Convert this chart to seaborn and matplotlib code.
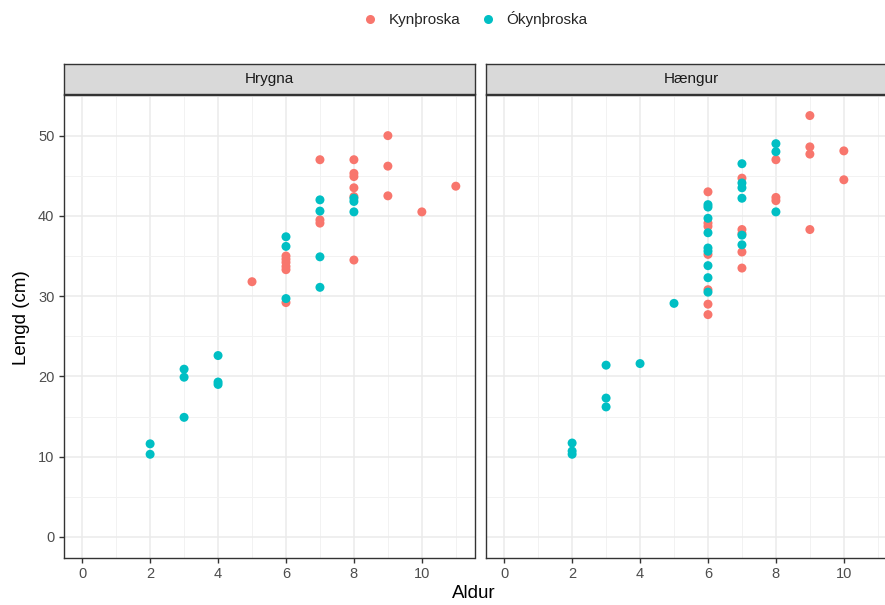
import pandas as pd
import matplotlib
matplotlib.use("Agg")
import matplotlib.pyplot as plt
import seaborn as sns
from matplotlib.lines import Line2D

# Values
# Hrygna (female)
f_age_mature = [5, 6, 6, 6, 6, 6, 6, 7, 7, 7, 8, 8, 8, 8, 8, 8, 9, 9, 9, 10, 11]
f_len_mature = [31.8, 35.0, 34.6, 34.2, 33.7, 33.3, 29.2, 47.0, 39.5, 39.1,
                47.0, 45.3, 44.9, 43.5, 42.4, 34.5, 50.0, 46.2, 42.5, 40.5, 43.7]
f_age_immature = [2, 2, 3, 3, 3, 4, 4, 4, 6, 6, 6, 7, 7, 7, 7, 8, 8, 8]
f_len_immature = [11.6, 10.3, 20.9, 19.9, 14.9, 22.6, 19.3, 19.0, 37.4, 36.2, 29.7,
                  42.0, 40.6, 34.9, 31.1, 42.2, 41.8, 40.5]

# Hængur (male)
m_age_mature = [6, 6, 6, 6, 6, 6, 6, 7, 7, 7, 7, 7, 8, 8, 8, 9, 9, 9, 9, 10, 10]
m_len_mature = [43.0, 39.1, 38.7, 35.2, 30.8, 29.0, 27.7, 44.7, 38.3, 37.8, 35.5, 33.5,
                47.0, 42.3, 41.9, 52.5, 48.6, 47.7, 38.3, 48.1, 44.5]
m_age_immature = [2, 2, 2, 3, 3, 3, 4, 5, 6, 6, 6, 6, 6, 6, 6, 6, 6,
                  7, 7, 7, 7, 7, 7, 8, 8, 8]
m_len_immature = [11.7, 10.7, 10.3, 21.4, 17.3, 16.2, 21.6, 29.1,
                  41.4, 41.1, 39.7, 37.9, 36.0, 35.6, 33.8, 32.3, 30.5,
                  46.5, 44.1, 43.5, 42.2, 37.6, 36.4, 49.0, 48.0, 40.5]

groups = ["Kynþroska", "Ókynþroska"]
panels = ["Hrygna", "Hængur"]
colors = {"Kynþroska": "#F8766D", "Ókynþroska": "#00BFC4"}

frames = []
for panel, a_m, l_m, a_i, l_i in [
    ("Hrygna", f_age_mature, f_len_mature, f_age_immature, f_len_immature),
    ("Hængur", m_age_mature, m_len_mature, m_age_immature, m_len_immature),
]:
    frames.append(pd.DataFrame({"Aldur": a_m, "Lengd": l_m, "kyn": panel, "hopur": groups[0]}))
    frames.append(pd.DataFrame({"Aldur": a_i, "Lengd": l_i, "kyn": panel, "hopur": groups[1]}))
df = pd.concat(frames, ignore_index=True)

sns.set_theme(style="white")
plt.rcParams["font.family"] = ["Liberation Sans", "DejaVu Sans"]

W, H = 885, 605
fig = plt.figure(figsize=(W / 100, H / 100), dpi=100)

# panel geometry in pixels (right panel runs past the right edge, as in the reference)
panel_top, panel_bot = 94.5, 558
strip_top = 64
lefts = [63.5, 485.5]
pw = 411

for i, panel in enumerate(panels):
    ax = fig.add_axes([lefts[i] / W, 1 - panel_bot / H, pw / W, (panel_bot - panel_top) / H])
    sub = df[df["kyn"] == panel]
    sns.scatterplot(data=sub, x="Aldur", y="Lengd", hue="hopur", hue_order=groups,
                    palette=colors, s=42, linewidth=0, ax=ax, legend=False, zorder=3)
    ax.set_xlim(-0.55, 11.55)
    ax.set_ylim(-2.625, 55.125)
    ax.set_xticks(range(0, 11, 2))
    ax.set_xticks(range(1, 12, 2), minor=True)
    ax.set_yticks(range(0, 51, 10))
    ax.set_yticks(range(5, 56, 10), minor=True)
    ax.grid(True, which="major", color="#EBEBEB", linewidth=1.1, zorder=0)
    ax.grid(True, which="minor", color="#F2F2F2", linewidth=0.7, zorder=0)
    ax.set_axisbelow(True)
    for sp in ax.spines.values():
        sp.set_color("#333333")
        sp.set_linewidth(1.0)
    ax.tick_params(axis="both", which="major", length=3.5, width=1.0, color="#333333",
                   labelcolor="#4D4D4D", labelsize=10.5, pad=3, bottom=True, left=True)
    ax.tick_params(axis="both", which="minor", length=0)
    ax.set_xlabel("")
    ax.set_ylabel("")
    if i == 1:
        ax.set_yticklabels([])
        ax.tick_params(axis="y", which="major", length=0)

    # facet strip
    sax = fig.add_axes([lefts[i] / W, 1 - panel_top / H, pw / W, (panel_top - strip_top) / H])
    sax.set_facecolor("#D9D9D9")
    sax.set_xticks([])
    sax.set_yticks([])
    for sp in sax.spines.values():
        sp.set_color("#333333")
        sp.set_linewidth(1.0)
    sax.text(0.5, 0.5, panel, ha="center", va="center", fontsize=11, color="#1A1A1A",
             transform=sax.transAxes)

fig.text(22 / W, 1 - 318 / H, "Lengd (cm)", rotation=90, ha="center", va="center",
         fontsize=13.5, color="black")
fig.text(474 / W, 1 - 594 / H, "Aldur", ha="center", va="center", fontsize=13.5, color="black")

handles = [Line2D([0], [0], marker="o", linestyle="", markersize=6.5,
                  markerfacecolor=colors[g], markeredgewidth=0) for g in groups]
fig.legend(handles, groups, loc="center", bbox_to_anchor=(474 / W, 1 - 19 / H), ncol=2,
           frameon=False, fontsize=11, handletextpad=0.6, columnspacing=1.2,
           handlelength=1.2)

fig.savefig("out.png", dpi=100)
